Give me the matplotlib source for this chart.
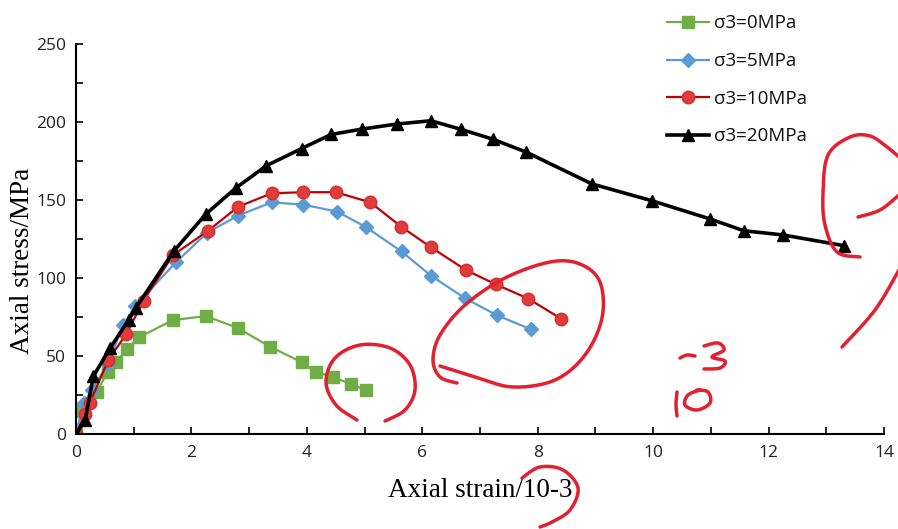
import numpy as np
import matplotlib
matplotlib.use("Agg")
import matplotlib.pyplot as plt
from matplotlib.ticker import MultipleLocator

# strain (10^-3) / stress (MPa)
x0 = [0, 0.1, 0.36, 0.55, 0.7, 0.88, 1.09, 1.68, 2.25, 2.8, 3.36, 3.91, 4.15, 4.45, 4.77, 5.03]
y0 = [0, 15, 27, 40, 46, 54.5, 62, 73, 75.6, 68, 56, 46, 40, 36.5, 32, 28]

x5 = [0, 0.14, 0.27, 0.55, 0.82, 1.02, 1.73, 2.27, 2.81, 3.39, 3.94, 4.53, 5.03, 5.64, 6.15, 6.74, 7.3, 7.89]
y5 = [0, 20, 28, 45, 70, 82, 110, 129, 140, 148.5, 147, 142.5, 132.5, 117, 101.5, 87, 76, 67]

x10 = [0, 0.16, 0.24, 0.56, 0.87, 1.17, 1.68, 2.29, 2.81, 3.39, 3.94, 4.5, 5.1, 5.63, 6.15, 6.76, 7.27, 7.84, 8.4]
y10 = [0, 13, 20, 47.5, 64, 85.5, 114.7, 130.3, 145.7, 154.3, 155, 155, 148.5, 133, 119.7, 105, 96, 86.7, 74]

x20 = [0, 0.16, 0.3, 0.59, 0.91, 1.04, 1.69, 2.25, 2.78, 3.3, 3.91, 4.42, 4.96, 5.56, 6.15, 6.67,
       7.22, 7.8, 8.94, 9.98, 10.99, 11.57, 12.25, 13.31]
y20 = [0, 9, 37, 55, 73, 81, 117, 141, 158, 172, 183, 192, 195.5, 198.7, 200.8, 195.3,
       189, 180.7, 160.3, 149.5, 137.8, 130.3, 127.6, 120.7]

labels = ["σ3=0MPa", "σ3=5MPa", "σ3=10MPa", "σ3=20MPa"]

W, H = 898, 529
fig = plt.figure(figsize=(W / 100, H / 100), dpi=100)
ax = fig.add_axes([76 / W, 1 - 434 / H, (884 - 76) / W, (434 - 44) / H])

ax.plot(x0, y0, color="#70AD47", lw=1.6, marker="s", ms=8, mec="#70AD47", label=labels[0])
ax.plot(x5, y5, color="#5B9BD5", lw=1.6, marker="D", ms=7, mec="#5B9BD5", label=labels[1])
ax.plot(x10, y10, color="#C00000", lw=1.6, marker="o", ms=9, mfc="#E03C3C", mec="#D03030", label=labels[2])
ax.plot(x20, y20, color="black", lw=2.6, marker="^", ms=8, label=labels[3])

ax.set_xlim(0, 14)
ax.set_ylim(0, 250)
ax.xaxis.set_major_locator(MultipleLocator(2))
ax.xaxis.set_minor_locator(MultipleLocator(1))
ax.yaxis.set_major_locator(MultipleLocator(50))
ax.yaxis.set_minor_locator(MultipleLocator(25))
ax.tick_params(which="both", direction="in", width=1.2, length=5, colors="black",
               labelcolor="#222222", labelsize=12.5)
ax.tick_params(axis="y", pad=7)
ax.tick_params(axis="x", pad=8)
for t in ax.get_xticklabels() + ax.get_yticklabels():
    t.set_family("Open Sans")
for s in ["top", "right"]:
    ax.spines[s].set_visible(False)
for s in ["left", "bottom"]:
    ax.spines[s].set_linewidth(1.5)

ax.set_xlabel("Axial strain/10-3", family="Liberation Serif", fontsize=19.5, labelpad=12)
ax.set_ylabel("Axial stress/MPa", family="Liberation Serif", fontsize=19.5)
ax.yaxis.set_label_coords(-0.051, 0.444)

leg = ax.legend(loc="upper left", bbox_to_anchor=(658 / W, 1 - 5 / H), bbox_transform=fig.transFigure,
                frameon=False, prop={"family": "Open Sans", "size": 13.5}, handlelength=2.2,
                handletextpad=0.3, labelspacing=1.05, borderpad=0)
for t in leg.get_texts():
    t.set_color("#111111")


# red pen scribbles on the page (pixel positions)
def smooth(pts, n=20):
    p = np.array(pts, float)
    p = np.vstack([p[0], p, p[-1]])
    out = []
    for i in range(1, len(p) - 2):
        p0, p1, p2, p3 = p[i - 1], p[i], p[i + 1], p[i + 2]
        for t in np.linspace(0, 1, n, endpoint=False):
            out.append(0.5 * ((2 * p1) + (-p0 + p2) * t + (2 * p0 - 5 * p1 + 4 * p2 - p3) * t ** 2
                              + (-p0 + 3 * p1 - 3 * p2 + p3) * t ** 3))
    out.append(p[-2])
    return np.array(out)


strokes = [
    [(357, 420), (336, 405), (326, 382), (335, 358), (360, 345), (390, 348), (410, 365), (415, 390),
     (405, 410), (385, 421)],
    [(440, 366), (475, 377), (513, 387), (555, 380), (585, 355), (602, 318), (600, 282), (580, 264),
     (550, 262), (505, 278), (465, 305), (440, 335), (433, 360), (440, 377), (457, 383)],
    [(860, 257), (837, 252), (825, 225), (823, 193), (828, 155), (850, 137), (870, 136), (887, 147),
     (899, 157)],
    [(858, 217), (880, 210), (899, 195)],
    [(899, 270), (875, 310), (842, 347)],
    [(522, 478), (540, 467), (563, 470), (578, 488), (570, 510), (552, 522), (540, 527)],
    [(680, 358), (687, 355), (695, 356)],
    [(704, 346), (718, 343), (724, 350), (712, 357), (725, 361), (720, 368), (704, 369)],
    [(677, 392), (676, 404), (677, 416)],
    [(700, 390), (688, 395), (685, 405), (697, 410), (710, 403), (708, 392), (697, 390)],
]
for st in strokes:
    c = smooth(st)
    fig.add_artist(plt.Line2D(c[:, 0] / W, 1 - c[:, 1] / H, transform=fig.transFigure,
                              color="#E3202F", lw=2.5, solid_capstyle="round"))

fig.savefig("out.png", dpi=100)
